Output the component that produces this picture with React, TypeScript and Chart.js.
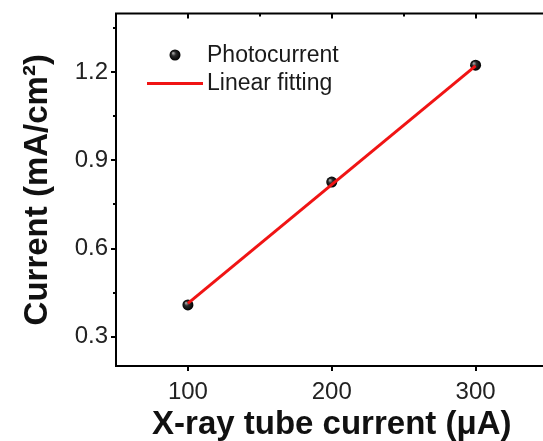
import React, { useEffect, useRef } from 'react';
import { Chart, registerables } from 'chart.js';

Chart.register(...registerables);

const tubeCurrent = [100, 200, 300];
const photocurrent = [0.408, 0.826, 1.224];
const fitX = [100, 300];
const fitY = [0.413, 1.222];
const xMajorTicks = [100, 200, 300];
const xTopTicks = [100, 150, 200, 250, 300];
const yMajorTicks = [0.3, 0.6, 0.9, 1.2];
const yMinorTicks = [0.45, 0.75, 1.05, 1.35];
const legendLabels = ['Photocurrent', 'Linear fitting'];
const xTitle = 'X-ray tube current (\u03bcA)';
const yTitle = 'Current (mA/cm\u00b2)';

const FONT = "'Liberation Sans', Arial, sans-serif";
const RED = '#f01414';

function sphere(ctx: CanvasRenderingContext2D, x: number, y: number, r: number) {
  const g = ctx.createRadialGradient(x - r * 0.35, y - r * 0.35, r * 0.1, x, y, r);
  g.addColorStop(0, '#9a9a9a');
  g.addColorStop(0.35, '#2a2a2a');
  g.addColorStop(1, '#000000');
  return g;
}

const framePlugin = {
  id: 'frameLegend',
  afterDraw(chart: any) {
    const { ctx, chartArea: a, scales } = chart;
    ctx.save();
    ctx.strokeStyle = '#000';
    ctx.lineWidth = 2;
    ctx.beginPath();
    ctx.moveTo(a.left - 1, a.top);
    ctx.lineTo(a.right, a.top);
    ctx.lineTo(a.right, a.bottom + 1);
    ctx.stroke();
    xTopTicks.forEach((v) => {
      const x = Math.round(scales.x.getPixelForValue(v));
      const len = v % 100 === 0 ? 5 : 3;
      ctx.beginPath();
      ctx.moveTo(x, a.top);
      ctx.lineTo(x, a.top + len);
      ctx.stroke();
    });
    yMinorTicks.forEach((v) => {
      const y = Math.round(scales.y.getPixelForValue(v));
      ctx.beginPath();
      ctx.moveTo(a.left, y);
      ctx.lineTo(a.left - 3, y);
      ctx.stroke();
    });
    ctx.font = `23px ${FONT}`;
    ctx.textBaseline = 'middle';
    ctx.textAlign = 'left';
    const mx = 167, my = 47;
    ctx.beginPath();
    ctx.arc(mx, my, 5.5, 0, Math.PI * 2);
    ctx.fillStyle = sphere(ctx, mx, my, 5.5);
    ctx.fill();
    ctx.fillStyle = '#1a1a1a';
    ctx.fillText(legendLabels[0], 199, my + 1);
    ctx.strokeStyle = RED;
    ctx.lineWidth = 3;
    ctx.beginPath();
    ctx.moveTo(139, 75.5);
    ctx.lineTo(195, 75.5);
    ctx.stroke();
    ctx.fillText(legendLabels[1], 199, 76);
    ctx.restore();
  },
};

export default function App() {
  const ref = useRef<HTMLCanvasElement>(null);
  useEffect(() => {
    if (!ref.current) return;
    const chart = new Chart(ref.current, {
      type: 'scatter',
      data: {
        datasets: [
          {
            label: legendLabels[1],
            data: fitX.map((x, i) => ({ x, y: fitY[i] })),
            showLine: true,
            borderColor: RED,
            borderWidth: 3,
            pointRadius: 0,
            fill: false,
          },
          {
            label: legendLabels[0],
            data: tubeCurrent.map((x, i) => ({ x, y: photocurrent[i] })),
            pointRadius: 5.5,
            borderWidth: 0,
            borderColor: '#000',
            backgroundColor: (c: any) => {
              if (c.type !== 'data' || !c.parsed) return '#111';
              const sx = c.chart.scales.x, sy = c.chart.scales.y;
              if (!sx || !sy) return '#111';
              const x = sx.getPixelForValue(c.parsed.x);
              const y = sy.getPixelForValue(c.parsed.y);
              if (!isFinite(x) || !isFinite(y)) return '#111';
              return sphere(c.chart.ctx, x, y, 5.5);
            },
          },
        ],
      },
      options: {
        animation: false,
        responsive: false,
        layout: { padding: { top: 3, right: 5, left: 0, bottom: 0 } },
        plugins: { legend: { display: false }, tooltip: { enabled: false } },
        scales: {
          x: {
            type: 'linear',
            position: 'bottom',
            min: 50,
            max: 350,
            afterBuildTicks: (s: any) => {
              s.ticks = xMajorTicks.map((v) => ({ value: v }));
            },
            afterFit: (s: any) => {
              s.height = 75;
              s.paddingLeft = 0;
              s.paddingRight = 0;
            },
            ticks: {
              autoSkip: false,
              maxRotation: 0,
              padding: 7,
              color: '#222',
              font: { family: FONT, size: 24, lineHeight: 1.2 },
              callback: (v: any) => String(v),
            },
            grid: { drawOnChartArea: false, drawTicks: true, tickLength: 5, color: '#000', lineWidth: 2 },
            border: { display: true, color: '#000', width: 2 },
            title: {
              display: true,
              text: xTitle,
              color: '#111',
              font: { family: FONT, size: 33, weight: 'bold', lineHeight: 1 },
              padding: { top: 0, bottom: 0 },
            },
          },
          y: {
            type: 'linear',
            position: 'left',
            min: 0.2,
            max: 1.4,
            afterBuildTicks: (s: any) => {
              s.ticks = yMajorTicks.map((v) => ({ value: v }));
            },
            afterFit: (s: any) => {
              s.width = 108;
              s.paddingTop = 0;
              s.paddingBottom = 0;
            },
            ticks: {
              autoSkip: false,
              padding: 3,
              color: '#222',
              font: { family: FONT, size: 24, lineHeight: 1.2 },
              callback: (v: any) => Number(v).toFixed(1),
            },
            grid: { drawOnChartArea: false, drawTicks: true, tickLength: 5, color: '#000', lineWidth: 2 },
            border: { display: true, color: '#000', width: 2 },
            title: {
              display: true,
              text: yTitle,
              color: '#111',
              font: { family: FONT, size: 33, weight: 'bold', lineHeight: 1 },
              padding: { top: 13, bottom: 0 },
            },
          },
        },
      },
      plugins: [framePlugin],
    } as any);
    return () => chart.destroy();
  }, []);

  return (
    <div style={{ position: 'absolute', left: 8, top: 8, width: 535, height: 433, overflow: 'hidden', background: '#fff' }}>
      <canvas ref={ref} width={545} height={433} style={{ display: 'block' }} />
    </div>
  );
}
